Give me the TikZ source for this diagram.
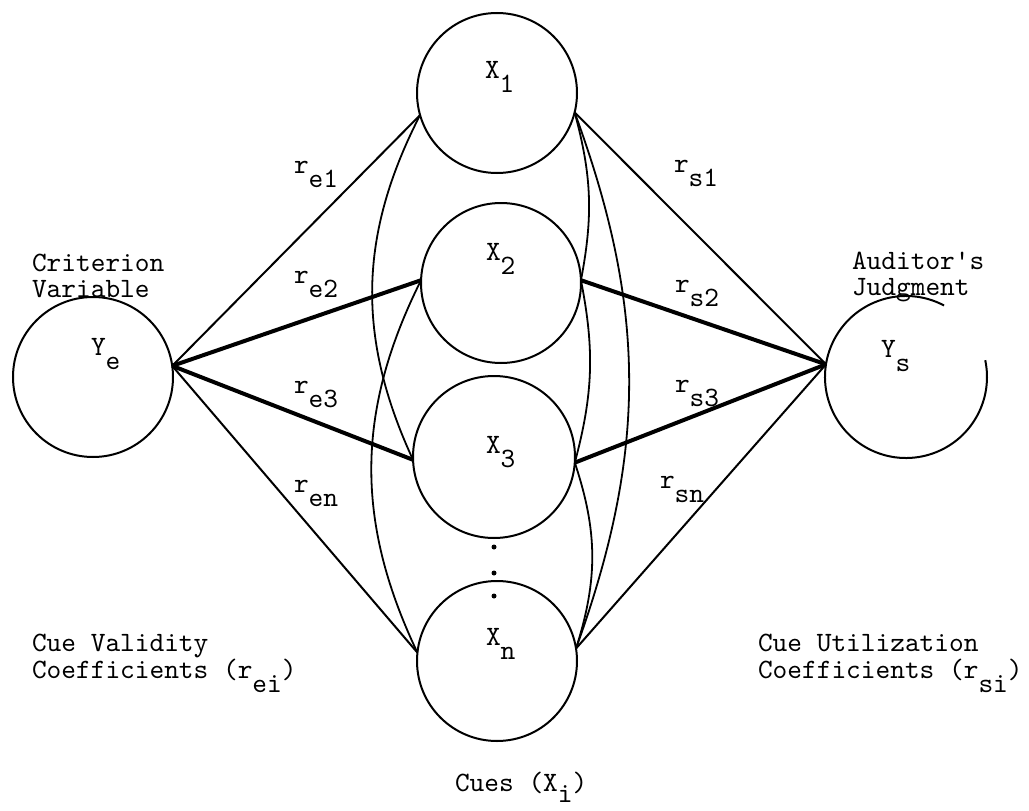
\documentclass[tikz,border=0pt]{standalone}
\usepackage{fontspec}
% serif typewriter face, straight apostrophe kept as typed
\newfontfamily\typewriter{lmmono10-regular.otf}[Ligatures=TeXOff]
% typewriter-style subscript: same size, dropped half a line
\newcommand\lo[1]{\raisebox{-0.5em}{#1}}
\begin{document}
\begin{tikzpicture}[x=1pt,y=-1pt,
  ring/.style={circle,draw,line width=2pt,minimum size=160pt,inner sep=0pt,outer sep=0pt},
  thinlink/.style={line width=2pt},
  thicklink/.style={line width=4pt},
  cuearc/.style={line width=1.8pt},
  lbl/.style={anchor=base west,inner sep=0pt,outer sep=0pt,font=\typewriter\fontsize{28}{29}\selectfont},
  dot/.style={circle,fill,inner sep=0pt,minimum size=5pt}
]
\useasboundingbox (0,0) rectangle (1029,811);

% criterion, cues and judgment
\node[ring] (ye) at (93,377) {};
\node[ring] (x1) at (497,93) {};
\node[ring] (x2) at (501,283) {};
\node[ring,minimum size=162pt] (x3) at (494,457) {};
\node[ring] (xn) at (497,661) {};
\node[ring,draw=none,minimum size=162pt] (ys) at (906,377) {};
\draw[line width=2pt] (ys.62) arc[start angle=62,end angle=372,radius=81pt];

% junction points on the two outer circles
\coordinate (ej) at (ye.8);
\coordinate (sj) at (ys.171);

% ellipsis between X3 and Xn
\node[dot] (d1) at (494,547) {};
\node[dot] (d2) at (494,573) {};
\node[dot] (d3) at (494,596) {};

% cue validity links
\draw[thinlink]  (ej) -- (x1.196);
\draw[thicklink] (ej) -- (x2.178);
\draw[thicklink] (ej) -- (x3.182);
\draw[thinlink]  (ej) -- (xn.174);

% cue utilization links
\draw[thinlink]  (x1.346) -- (sj);
\draw[thicklink] (x2.2)   -- (sj);
\draw[thicklink] (x3.356) -- (sj);
\draw[thinlink]  (xn.9)   -- (sj);

% intercorrelations among the cues
\draw[cuearc] (x1.196) to[bend right=26] (x3.182);
\draw[cuearc] (x2.178) to[bend right=26] (xn.174);
\draw[cuearc] (x1.346) to[bend left=13] (x2.2);
\draw[cuearc] (x2.2)   to[bend left=13] (x3.356);
\draw[cuearc] (x3.356) to[bend left=18] (xn.9);
\draw[cuearc] (x1.346) to[bend left=20] (xn.9);

% circle labels
\node[lbl] (lye) at (91,355) {Y\lo{e}};
\node[lbl] (lys) at (881,357) {Y\lo{s}};
\node[lbl] (lx1) at (485,78) {X\lo{1}};
\node[lbl] (lx2) at (486,260) {X\lo{2}};
\node[lbl] (lx3) at (486,453) {X\lo{3}};
\node[lbl] (lxn) at (486,645) {X\lo{n}};

% coefficient labels
\node[lbl] (re1) at (294,173) {r\lo{e1}};
\node[lbl] (re2) at (294,283) {r\lo{e2}};
\node[lbl] (re3) at (294,393) {r\lo{e3}};
\node[lbl] (ren) at (294,492) {r\lo{en}};
\node[lbl] (rs1) at (674,172) {r\lo{s1}};
\node[lbl] (rs2) at (675,292) {r\lo{s2}};
\node[lbl] (rs3) at (675,392) {r\lo{s3}};
\node[lbl] (rsn) at (660,488) {r\lo{sn}};

% captions
\node[lbl] (crit1) at (32,271) {Criterion};
\node[lbl] (crit2) at (32,297) {Variable};
\node[lbl] (jud1) at (852,269) {Auditor's};
\node[lbl] (jud2) at (852,295) {Judgment};
\node[lbl] (val1) at (32,651) {Cue Validity};
\node[lbl] (val2) at (32,678) {Coefficients (r\lo{ei})};
\node[lbl] (uti1) at (758,651) {Cue Utilization};
\node[lbl] (uti2) at (758,678) {Coefficients (r\lo{si})};
\node[lbl] (cues) at (455,791) {Cues (X\raisebox{-0.4em}{i})};
\end{tikzpicture}
\end{document}
